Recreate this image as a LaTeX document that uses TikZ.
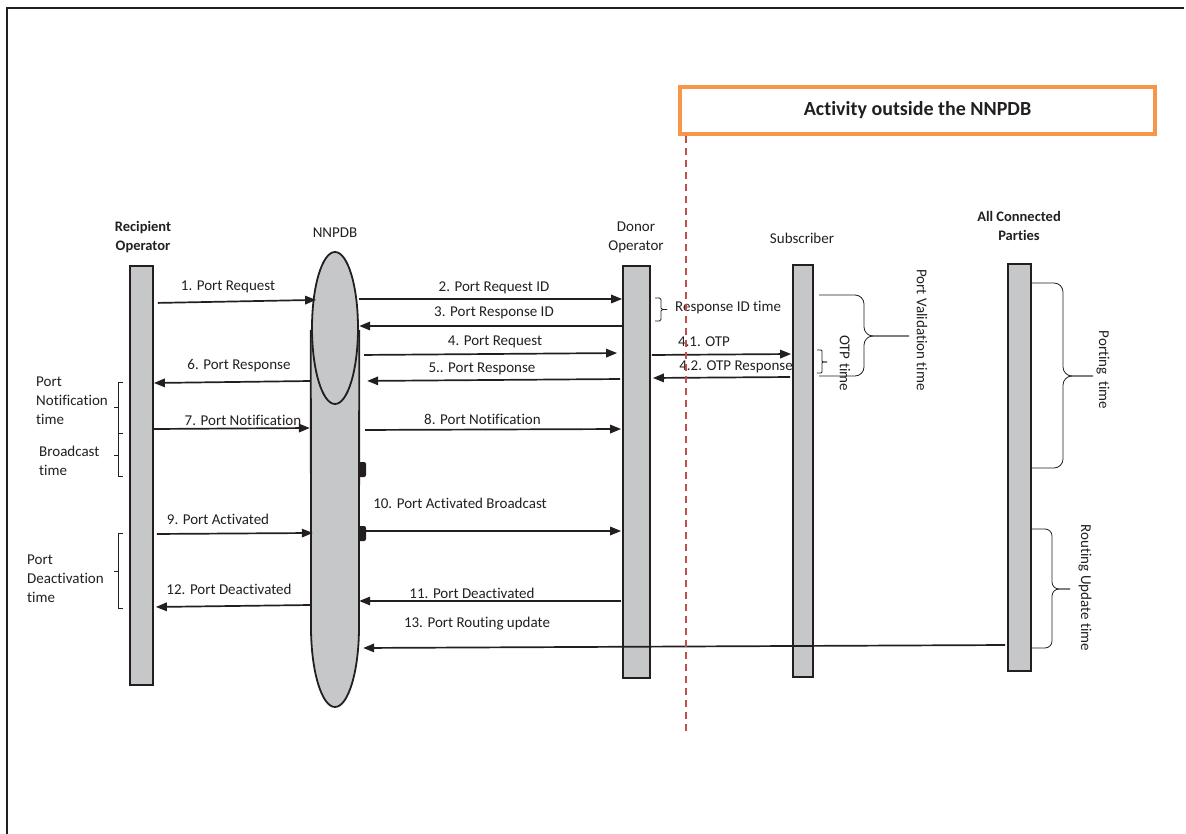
\documentclass[tikz,border=0pt]{standalone}
\usepackage{fontspec}
\setmainfont{Carlito}[Ligatures={NoCommon,NoContextual}]
\usetikzlibrary{arrows.meta,shapes.geometric}
\definecolor{ink}{HTML}{231F20}
\definecolor{barfill}{HTML}{C6C7C9}
\definecolor{actorange}{HTML}{F79646}
\definecolor{dashred}{HTML}{C0504D}
% #1 arm x, #2 spine x, #3 tip x, #4 top y, #5 tip y, #6 bottom y, #7 corner radius
\newcommand{\timebrace}[7]{%
  \draw[bracel,rounded corners=#7] (#1,-#4) -- (#2,-#4) -- (#2,-#5) -- (#3,-#5);
  \draw[bracel,rounded corners=#7] (#3,-#5) -- (#2,-#5) -- (#2,-#6) -- (#1,-#6);}
\begin{document}
\begin{tikzpicture}[x=1pt,y=1pt,
  every node/.style={text=ink, font=\fontsize{15}{19}\selectfont, inner sep=0pt},
  lifebar/.style={draw=ink, line width=1.8pt, fill=barfill, inner sep=0pt},
  msg/.style={draw=ink, line width=1.7pt, -{Triangle[length=11pt,width=8.5pt]}},
  bracel/.style={draw=ink, line width=0.8pt},
  blip/.style={fill=ink, rounded corners=2pt, minimum width=8pt, minimum height=15pt, inner sep=0pt},
  hdr/.style={align=center},
  hdrb/.style={align=center, font=\fontsize{14.5}{19}\selectfont\bfseries},
  side/.style={align=left, anchor=west},
  vlab/.style={rotate=-90},
]
\useasboundingbox (0,0) rectangle (1186,-834);
% frame
\draw[ink, line width=2pt] (7,-834) -- (7,-8) -- (1184,-8);
% activity banner
\node[draw=actorange, line width=4pt, minimum width=475pt, minimum height=47pt,
      font=\fontsize{20}{24}\selectfont\bfseries] (act) at (917.5,-110.5) {Activity outside the NNPDB};
% lifelines
\node[lifebar, minimum width=23pt, minimum height=419pt] (rec) at (141.5,-475.5) {};
\node[lifebar, minimum width=27pt, minimum height=412pt] (don) at (636.5,-472) {};
\node[lifebar, minimum width=20pt, minimum height=412pt] (sub) at (803,-471) {};
\node[lifebar, minimum width=23pt, minimum height=407pt] (acp) at (1019.5,-467.5) {};
% NNPDB
\node[minimum width=48pt, minimum height=377pt, inner sep=0pt] (dbb) at (335,-518.5) {};
\draw[draw=ink, line width=1.8pt, fill=barfill] (dbb.north west) -- (311,-627)
  arc[start angle=180, end angle=360, x radius=24pt, y radius=80pt] -- (dbb.north east);
\node[ellipse, draw=ink, line width=1.8pt, fill=barfill, minimum width=46pt, minimum height=152pt, inner sep=0pt] (db) at (335,-328) {};
\node[blip] (mk1) at (362,-469.5) {};
\node[blip] (mk2) at (362,-533.5) {};
% headers
\node[hdrb] (hrec) at (143,-237.5) {Recipient\\Operator};
\node[hdr] (hdb) at (335,-233) {NNPDB};
\node[hdr] (hdon) at (636,-237.5) {Donor\\Operator};
\node[hdr] (hsub) at (802,-238) {Subscriber};
\node[hdrb] (hacp) at (1019,-225.5) {All Connected\\Parties};
% messages
\draw[msg, shorten <=4pt, shorten >=-5pt] (rec.east |- 0,-303) -- (db.west |- 0,-300);
\draw[msg] (dbb.east |- 0,-299) -- (don.west |- 0,-299);
\draw[msg] (don.west |- 0,-326) -- (dbb.east |- 0,-326);
\draw[msg, shorten <=5pt, shorten >=5pt] (dbb.east |- 0,-355) -- (don.west |- 0,-353);
\draw[msg, shorten <=2pt, shorten >=8pt] (don.west |- 0,-379) -- (dbb.east |- 0,-381);
\draw[msg, shorten <=1pt, shorten >=1pt] (don.east |- 0,-355) -- (sub.west |- 0,-354);
\draw[msg, shorten <=2pt, shorten >=2pt] (sub.west |- 0,-377) -- (don.east |- 0,-378);
\draw[msg] (dbb.west |- 0,-381) -- (rec.east |- 0,-383);
\draw[msg, shorten >=1pt] (rec.east |- 0,-429) -- (dbb.west |- 0,-428);
\draw[msg, shorten <=6pt, shorten >=1pt] (dbb.east |- 0,-430) -- (don.west |- 0,-429);
\draw[msg, shorten <=3pt, shorten >=-2pt] (rec.east |- 0,-534) -- (dbb.west |- 0,-533);
\draw[msg, shorten >=1pt] (mk2.east |- 0,-531) -- (don.west |- 0,-531);
\draw[msg, shorten <=1pt] (don.west |- 0,-601) -- (dbb.east |- 0,-601);
\draw[msg, shorten >=2pt] (dbb.west |- 0,-605) -- (rec.east |- 0,-607);
\draw[msg, shorten <=2pt, shorten >=4pt] (acp.west |- 0,-645) -- (dbb.east |- 0,-648);
% message labels
\node (l1) at (228,-287) {1. Port Request};
\node (l2) at (494,-288) {2. Port Request ID};
\node (l3) at (494,-313) {3. Port Response ID};
\node (l4) at (495,-342) {4. Port Request};
\node (l5) at (482,-369) {5.. Port Response};
\node (l41) at (704,-342) {4.1. OTP};
\node (l42) at (736,-367) {4.2. OTP Response};
\node (l6) at (239,-366) {6. Port Response};
\node (l7) at (243,-420) {7. Port Notification};
\node (l8) at (482.5,-419) {8. Port Notification};
\node (l9) at (218,-519) {9. Port Activated};
\node (l10) at (460,-503) {10. Port Activated Broadcast};
\node (l11) at (472,-593) {11. Port Deactivated};
\node (l12) at (229,-589) {12. Port Deactivated};
\node (l13) at (477,-624) {13. Port Routing update};
% time braces
\timebrace{123}{118}{114}{382}{407}{433}{0pt}
\timebrace{123}{118}{114}{433}{455}{476}{0pt}
\timebrace{123}{118}{114}{533}{571}{608}{0pt}
\timebrace{655}{661}{667}{298}{309.5}{321}{1.5pt}
\timebrace{817}{822}{827}{350}{362}{373}{1pt}
\timebrace{819}{864}{909}{295}{336}{376}{9pt}
\timebrace{1032}{1063}{1093}{283}{376}{468}{9pt}
\timebrace{1032}{1052}{1070}{529}{589}{648}{7pt}
% time labels
\node[side] (tpn) at (36,-401) {Port\\Notification\\time};
\node[side] (tbc) at (39,-461) {Broadcast\\time};
\node[side] (tpd) at (27,-579) {Port\\Deactivation\\time};
\node[anchor=west] (trid) at (675,-308) {Response ID time};
\node[vlab] (totp) at (845,-363) {OTP time};
\node[vlab] (tpv) at (922,-330) {Port Validation time};
\node[vlab] (tpt) at (1103,-370) {Porting~ time};
\node[vlab] (tru) at (1085,-588) {Routing Update time};
% boundary of the NNPDB
\coordinate (dashend) at (686,-735);
\draw[dashred, line width=1.5pt, dash pattern=on 7pt off 5pt] (act.south west -| dashend) -- (dashend);
\end{tikzpicture}
\end{document}
